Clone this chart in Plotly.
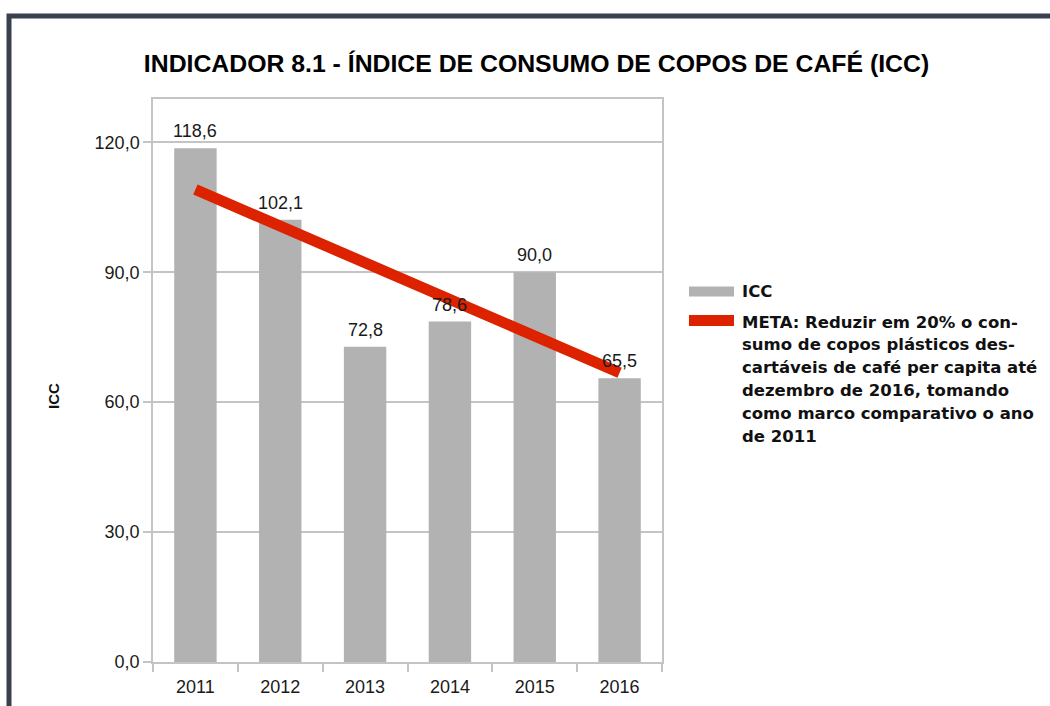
import plotly.graph_objects as go

# ---- data ----
years = ["2011", "2012", "2013", "2014", "2015", "2016"]
icc_values = [118.6, 102.1, 72.8, 78.6, 90.0, 65.5]
meta_values = [109.1, 100.6, 92.2, 83.7, 75.2, 66.8]
y_ticks = [0, 30, 60, 90, 120]
title_text = "INDICADOR 8.1 - ÍNDICE DE CONSUMO DE COPOS DE CAFÉ (ICC)"
legend_icc = "ICC"
legend_meta_lines = [
    "META: Reduzir em 20% o con-",
    "sumo de copos plásticos des-",
    "cartáveis de café per capita até",
    "dezembro de 2016, tomando",
    "como marco comparativo o ano",
    "de 2011",
]

W, H = 1050, 706
L, R, T, B = 153, 662, 99, 662  # plot area pixel bounds


def px(x):
    return (x - L) / (R - L)


def py(y):
    return (B - y) / (B - T)


GRAY = "#b2b2b2"
RED = "#dd2200"
GRID = "#c4c4c4"
TXT = "#1a1a1a"
FONT = "Liberation Sans, Arial, sans-serif"

fig = go.Figure()
fig.add_trace(go.Bar(x=years, y=icc_values, marker=dict(color=GRAY, line=dict(width=0)),
                     name="ICC", showlegend=False, hoverinfo="x+y"))
fig.add_trace(go.Scatter(x=years, y=meta_values, mode="lines",
                         line=dict(color=RED, width=11), name="META", showlegend=False))

annotations = []
for i, v in enumerate(icc_values):
    annotations.append(dict(x=i, y=v, xref="x", yref="y", text=f"{v:.1f}".replace(".", ","),
                            showarrow=False, yanchor="bottom", yshift=5,
                            font=dict(family=FONT, size=18, color=TXT)))

# y axis title
annotations.append(dict(x=px(53), y=py(396), xref="paper", yref="paper", text="<b>ICC</b>",
                        textangle=-90, showarrow=False, xanchor="center", yanchor="middle",
                        font=dict(family=FONT, size=15, color="#111111")))

# legend (custom)
LEG_FONT = "DejaVu Sans, Verdana, sans-serif"
annotations.append(dict(x=px(740), y=py(291), xref="paper", yref="paper", text="<b>" + legend_icc + "</b>",
                        showarrow=False, xanchor="left", yanchor="middle",
                        font=dict(family=LEG_FONT, size=16.5, color="#111111")))
for i, line in enumerate(legend_meta_lines):
    annotations.append(dict(x=px(740), y=py(322 + i * 22.8), xref="paper", yref="paper",
                            text="<b>" + line + "</b>", showarrow=False, xanchor="left",
                            yanchor="middle", font=dict(family=LEG_FONT, size=16.5, color="#111111")))

shapes = [
    # outer frame
    dict(type="rect", xref="paper", yref="paper", x0=px(9), x1=px(1080), y0=py(740), y1=py(16),
         line=dict(color="#39414c", width=5), fillcolor="rgba(0,0,0,0)", layer="above"),
    # legend symbols
    dict(type="rect", xref="paper", yref="paper", x0=px(689), x1=px(734), y0=py(296.5), y1=py(286.5),
         line=dict(width=0), fillcolor=GRAY),
    dict(type="rect", xref="paper", yref="paper", x0=px(689), x1=px(734), y0=py(326), y1=py(315),
         line=dict(width=0), fillcolor=RED),
]

fig.update_layout(
    width=W, height=H,
    margin=dict(l=L, r=W - R, t=T, b=H - B, autoexpand=False),
    paper_bgcolor="white", plot_bgcolor="white",
    separators=",.",
    bargap=0.5,
    showlegend=False,
    title=dict(text="<b>" + title_text + "</b>", xref="container", yref="container",
               x=536.5 / W, y=1 - 63 / H, xanchor="center", yanchor="middle",
               font=dict(family=FONT, size=24.8, color="#000000")),
    xaxis=dict(type="category", range=[-0.5, len(years) - 0.5], autorange=False,
               tickson="boundaries", ticks="outside", ticklen=8, tickwidth=1.5,
               tickcolor=GRID, showline=True, linecolor=GRID, linewidth=1.5, mirror=True,
               showgrid=False, tickangle=0, ticklabelstandoff=8,
               tickfont=dict(family=FONT, size=18, color=TXT)),
    yaxis=dict(range=[0, 130], autorange=False, tickvals=y_ticks, tickformat=".1f", ticks="outside",
               ticklen=8, tickwidth=1.5, tickcolor=GRID, showline=True, linecolor=GRID, linewidth=1.5,
               mirror=True, showgrid=True, gridcolor=GRID, gridwidth=1.5, zeroline=False,
               tickfont=dict(family=FONT, size=18, color=TXT)),
    annotations=annotations,
    shapes=shapes,
)

fig.write_html("out.html", config={"displayModeBar": False},
               post_script="document.body.style.margin='0';document.body.style.overflow='hidden';")
